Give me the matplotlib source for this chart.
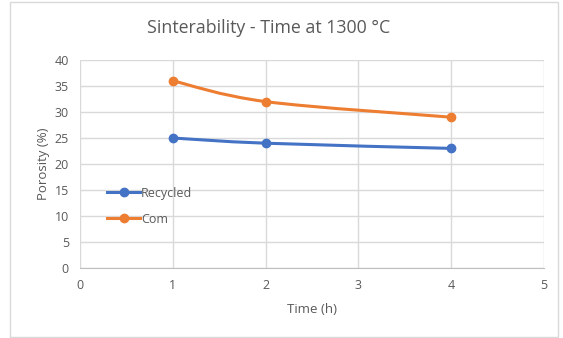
import matplotlib
matplotlib.use("Agg")
import matplotlib.pyplot as plt
from matplotlib.path import Path
from matplotlib.patches import PathPatch, Rectangle
from matplotlib.lines import Line2D
import numpy as np

# data
time_h = [1, 2, 4]
recycled = [25, 24, 23]
com = [36, 32, 29]
series_names = ["Recycled", "Com"]
colors = ["#4472C4", "#ED7D31"]
x_ticks = [0, 1, 2, 3, 4, 5]
y_ticks = [0, 5, 10, 15, 20, 25, 30, 35, 40]

plt.rcParams['font.family'] = ['Open Sans', 'DejaVu Sans']
GRAY = "#595959"


def smooth_path(xs, ys):
    # Excel-like smoothed line: cubic bezier with catmull-rom control points
    xs = np.asarray(xs, float); ys = np.asarray(ys, float)
    verts = [(xs[0], ys[0])]; codes = [Path.MOVETO]
    n = len(xs)
    for i in range(n - 1):
        p0 = np.array([xs[max(i - 1, 0)], ys[max(i - 1, 0)]])
        p1 = np.array([xs[i], ys[i]])
        p2 = np.array([xs[i + 1], ys[i + 1]])
        p3 = np.array([xs[min(i + 2, n - 1)], ys[min(i + 2, n - 1)]])
        c1 = p1 + (p2 - p0) / 6.0
        c2 = p2 - (p3 - p1) / 6.0
        verts += [tuple(c1), tuple(c2), tuple(p2)]
        codes += [Path.CURVE4] * 3
    return Path(verts, codes)


fig = plt.figure(figsize=(5.63, 3.38), dpi=100)
fig.patches.append(Rectangle((10 / 563, 1 - 337 / 338), 548 / 563, 335 / 338,
                             transform=fig.transFigure, fill=False,
                             edgecolor="#D9D9D9", lw=1))
ax = fig.add_axes([80 / 563, 1 - 268 / 338, 464 / 563, 208 / 338])

handles = []
for ys, name, c in zip([recycled, com], series_names, colors):
    ax.add_patch(PathPatch(smooth_path(time_h, ys), fill=False, edgecolor=c,
                           lw=2.2, capstyle="round", zorder=3))
    ax.plot(time_h, ys, "o", color=c, ms=6, zorder=4)
    handles.append(Line2D([], [], color=c, lw=2.2, marker="o", ms=6))

ax.set_xlim(0, 5); ax.set_ylim(0, 40)
ax.set_xticks(x_ticks); ax.set_yticks(y_ticks)
ax.grid(True, color="#D9D9D9", lw=1)
ax.set_axisbelow(True)
for s in ["top", "right", "left"]:
    ax.spines[s].set_visible(False)
ax.spines["bottom"].set_color("#BFBFBF")
ax.tick_params(length=0, labelsize=9, colors=GRAY, pad=8)

ax.set_xlabel("Time (h)", fontsize=9.5, color=GRAY, labelpad=8)
ax.set_ylabel("Porosity (%)", fontsize=9.5, color=GRAY, labelpad=3)
fig.text(269 / 563, 1 - 28 / 338, "Sinterability - Time at 1300 °C",
         ha="center", va="center", fontsize=12.8, color=GRAY)

ax.legend(handles, series_names, loc="upper left", bbox_to_anchor=(0.035, 0.445),
          frameon=False, fontsize=9, labelcolor=GRAY, handlelength=2.6,
          handletextpad=0.1, labelspacing=1.05)

fig.savefig("out.png", dpi=100)
